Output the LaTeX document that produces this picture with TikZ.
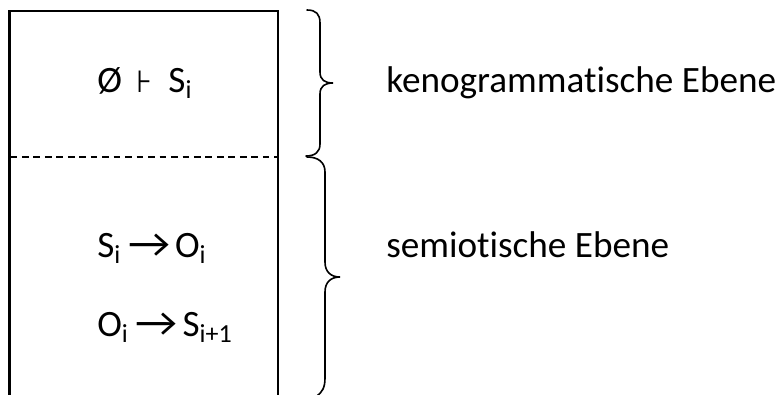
\documentclass[tikz,border=0pt]{standalone}
\usepackage{fontspec}
\setmainfont{Carlito}[Ligatures=NoCommon]
\newfontfamily\djv{DejaVu Sans}
\tikzset{
  frameline/.style={line width=1.7pt, line cap=butt},
  dashline/.style={line width=1.1pt, dash pattern=on 5pt off 3.6pt},
  bracepath/.style={line width=1.2pt, line cap=round},
  lbl/.style={anchor=base west, inner sep=0pt, font=\fontsize{27.9}{32}\selectfont},
}
\newcommand{\sub}[1]{\textsubscript{#1}}
\newcommand{\arr}{\hspace{0.2em}\scalebox{1.25}[1.1]{→}\hspace{0.12em}}
\begin{document}
\begin{tikzpicture}[x=0.75pt,y=-0.75pt]
\useasboundingbox (0,0) rectangle (780,394);
% frame
\coordinate (bl) at (9.5,396);
\coordinate (tl) at (9.5,11);
\coordinate (tr) at (278,11);
\coordinate (br) at (278,396);
\draw[frameline] (bl) -- (tl) -- (tr) -- (br);
\coordinate (dl) at (10.5,157);
\coordinate (dr) at (277,157);
\draw[dashline] (dl) -- (dr);
% braces
\draw[bracepath] (307,10) .. controls (316,10) and (320,14) .. (320,23) -- (320,72)
  .. controls (320,80) and (325,83) .. (333,83)
  .. controls (325,83) and (320,86) .. (320,94) -- (320,144)
  .. controls (320,152) and (315,156) .. (306,156);
\draw[bracepath] (307,157) .. controls (318,157) and (325,162) .. (325,172) -- (325,262)
  .. controls (325,272) and (331,277) .. (340,277)
  .. controls (331,277) and (325,282) .. (325,292) -- (325,378)
  .. controls (325,388) and (322,392) .. (317,396);
% texts
\node[lbl] (t1) at (97,92) {Ø\hspace{0.4em}{\djv\fontsize{23}{26}\selectfont ⊦}\hspace{0.42em}S\sub{i}};
\node[lbl] (t2) at (97,257) {S\sub{i}\arr O\sub{i}};
\node[lbl] (t3) at (97,336) {O\sub{i}\arr S\sub{i+1}};
\node[lbl] (k1) at (386,92) {kenogrammatische Ebene};
\node[lbl] (k2) at (386,257) {semiotische Ebene};
\end{tikzpicture}
\end{document}
